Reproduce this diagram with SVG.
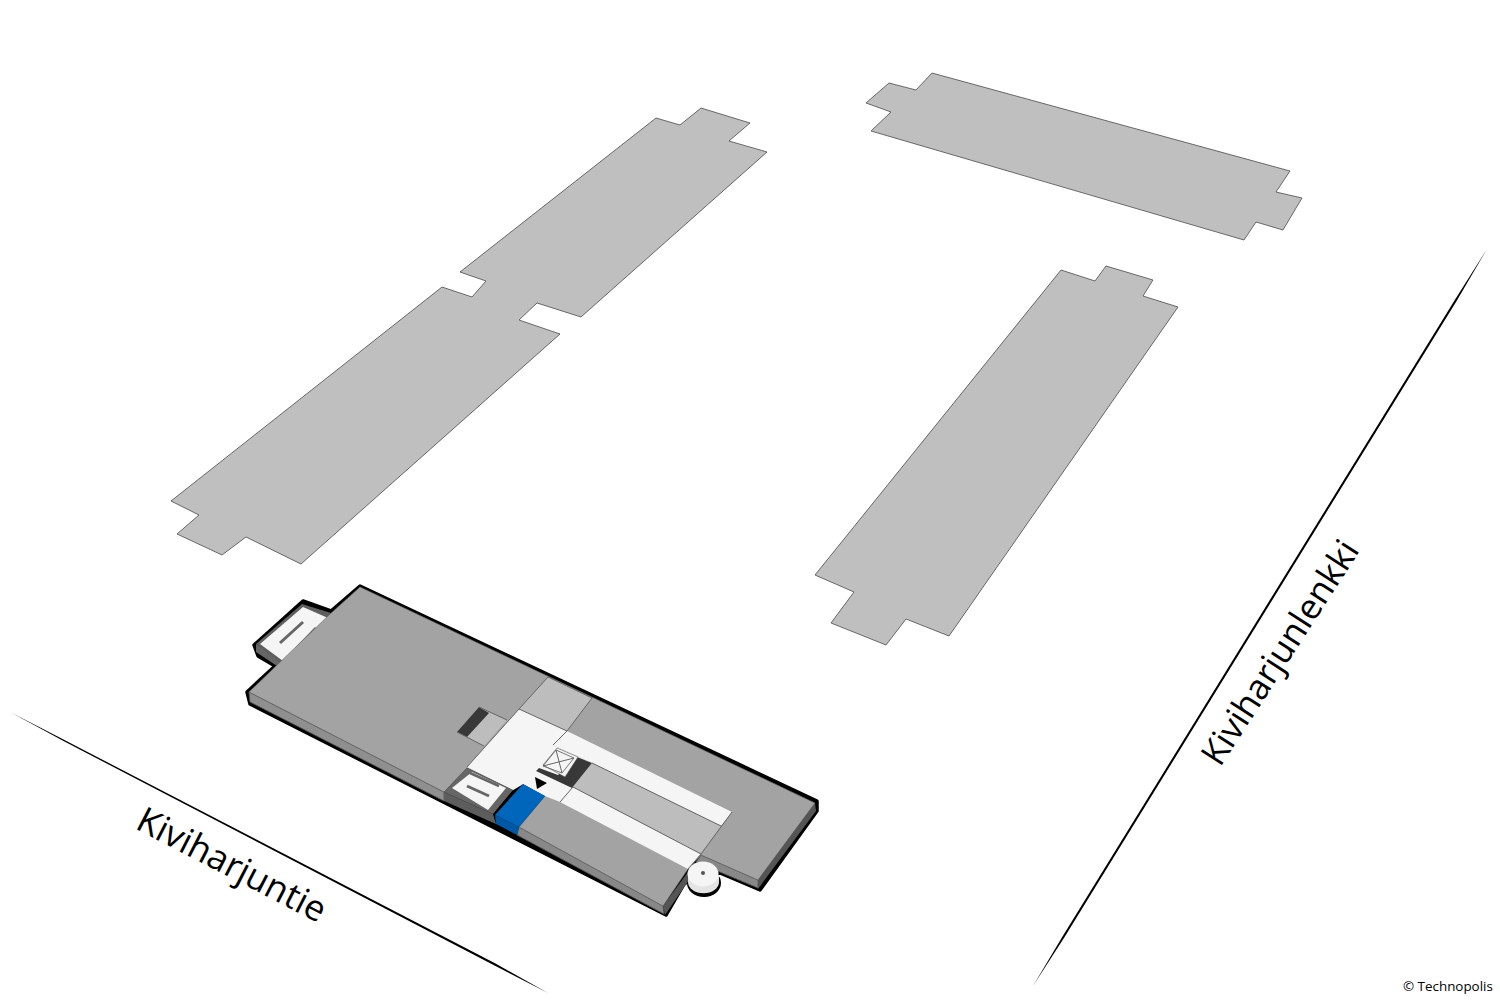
<svg xmlns="http://www.w3.org/2000/svg" width="1500" height="1000" viewBox="0 0 1500 1000">
<style>
.b{fill:#bfbfbf;stroke:#4a4a4a;stroke-width:.8;stroke-linejoin:round}
.f{fill:#a3a3a3}
.g{fill:#bdbdbd}
.w{fill:#f5f5f5}
.d{fill:#383838}
.e{stroke:#666;stroke-width:1;fill:none}
.r{fill:#000}
.t{font-family:"Open Sans","Noto Sans",sans-serif;fill:#000}
</style>
<rect width="1500" height="1000" fill="#fff"/>
<g id="roads">
<polygon class="r" points="10,712 62.500,739 495.500,963.500 548,993 494.500,965.500 63.500,741"/>
<polygon class="r" points="1487,249 1456.900,300.500 1064.900,936.500 1033,986 1063.100,935.500 1455.100,299.500"/>
</g>
<g id="building-a"><polygon class="b" points="656,118 680,125 701,108 750,123 729,141 767,152 581,317 537,303 519,320 560,334 301,564 246,537 222,555 177,534 199,515 171,501 442,287 472,297 486,281 460,272"/></g>
<g id="building-b"><polygon class="b" points="932,73 1290,171 1276,192 1302,198 1283,230 1256,222 1244,240 871,131 891,112 866,103 889,83 916,90"/></g>
<g id="building-c"><polygon class="b" points="1061,270 1095,281 1106,266 1153,280 1143,296 1178,307 949,636 906,619 886,645 831,623 854,592 815,575"/></g>
<g id="main-building">
<polygon points="303,601 331,611 360,586 817,801 817,811 760,890 720,873 690,880 684,884 666,915 250,704 247,692 275,666 258,656 254,645" fill="#000" stroke="#000" stroke-width="3.500" stroke-linejoin="round"/>
<ellipse cx="704" cy="883" rx="17" ry="14" fill="#000"/>
<polygon points="256,644 256,652 280,668 284,662" fill="#666"/>
<polygon points="302,604 331,613 283,665 256,644" fill="#5f5f5f"/>
<polygon points="303,607 328,618 283,661 260,644" class="w"/>
<line x1="280" y1="643" x2="303" y2="622" stroke="#666" stroke-width="3"/>
<line x1="296" y1="649" x2="316" y2="628" stroke="#666" stroke-width="3"/>
<polygon points="249,692 444,792 444,801 250,702" fill="#8f8f8f" stroke="#555" stroke-width=".8"/>
<polygon points="444,792 493,814 496,824 444,801" fill="#5d5d5d"/>
<polygon points="519,827 663,906 664,914 517,835" fill="#888" stroke="#555" stroke-width=".8"/>
<polygon points="663,906 688,872 689,880 665,915" fill="#555"/>
<polygon points="758,880 815,803 816,811 758,889" fill="#555"/>
<polygon points="701,855 758,880 758,888 696,862" fill="#888" stroke="#555" stroke-width=".8"/>
<polygon points="360,587 815,803 758,880 701,855 688,869 663,906 519,827 545,796 523,784 513,790 467,768 444,792 249,692 329,615" class="f" stroke="#666" stroke-width=".6"/>
<polygon class="g" points="548,677 592,698 567,731 519,709"/>
<polygon class="w" points="519,709 567,731 732,812 721,826 592,763 553,745 573,787 701,854 688,869 560,802 545,796 523,784 513,790 467,767"/>
<polygon class="g" points="592,763 721,826 701,854 573,787"/>
<polygon class="w" points="553,745 592,763 573,787 535,770"/>
<polygon class="g" points="479,707 507,720 484,746 457,732"/>
<polygon class="d" points="479,707 489,713 467,737 457,732"/>
<polygon class="d" points="577,757 592,763 572,788 536,771 539,768 558,775"/>
<polygon class="w" points="557,748 578,757 565,777 543,765" stroke="#555" stroke-width=".6"/>
<polygon points="556,750 574,758 562,773 543,766" fill="none" stroke="#555" stroke-width=".8"/>
<path d="M556,750 L562,773 M574,758 L543,766" class="e" stroke-width=".7"/>
<path class="e" d="M548,677 L519,709 L467,767 M592,698 L567,731 M548,677 L592,698 M519,709 L567,731 M507,720 L479,707 M484,746 L457,732 M592,763 L721,826 M573,787 L701,854 M732,812 L701,854 L688,869 M560,802 L573,787 M567,731 L553,745"/>
<polygon points="467,768 513,790 493,814 444,792" fill="#666"/>
<polygon class="w" points="472,772 506,788 488,810 452,788"/>
<line x1="467" y1="786" x2="489" y2="796" stroke="#666" stroke-width="3"/>
<line x1="470" y1="773" x2="499" y2="786" stroke="#666" stroke-width="2.500"/>
<polygon points="523,784 545,796 519,827 495,815" fill="#0066bb"/>
<polygon points="495,815 519,827 517,835 496,824" fill="#0058a4"/>
<polygon points="535,777 547,783 537,789" fill="#000"/>
<path d="M688,875 L688,882 A15,11 0 0 0 719,882 L719,875 Z" fill="#e4e4e4"/>
<ellipse cx="703" cy="874" rx="15.500" ry="12.500" fill="#f5f5f5"/>
<circle cx="703" cy="873" r="2" fill="#555"/>
</g>
<g id="labels">
<text class="t" font-size="35.500" transform="translate(134,828) rotate(27.3)">Kiviharjuntie</text>
<text class="t" font-size="35" transform="translate(1220,768) rotate(-57.2)">Kiviharjunlenkki</text>
<text class="t" font-size="13.400" x="1403" y="991">© Technopolis</text>
</g>
</svg>
